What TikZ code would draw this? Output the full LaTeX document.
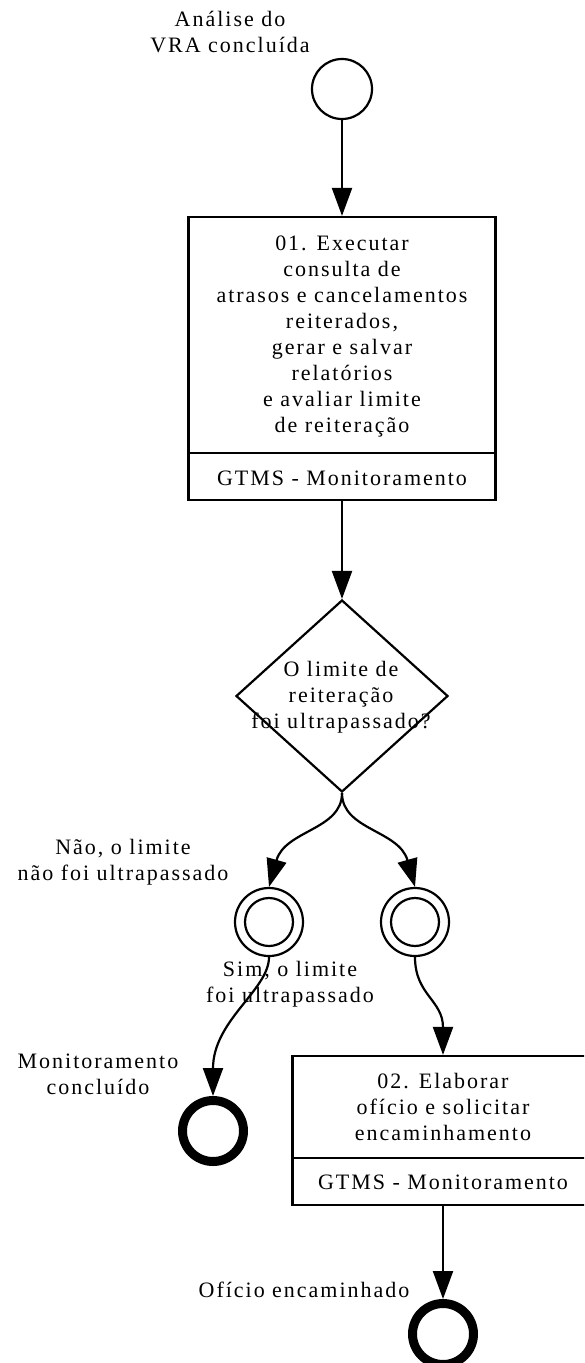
\documentclass[tikz,border=0pt]{standalone}
\usepackage{fontspec}
\setmainfont{Liberation Serif}[LetterSpace=9]
\usetikzlibrary{arrows.meta,shapes.geometric}
\begin{document}
\begin{tikzpicture}[x=1pt,y=-1pt,
  every node/.style={inner sep=0pt},
  lbl/.style={align=center, font=\fontsize{22pt}{26pt}\selectfont},
  stroke/.style={line width=2.2pt},
  arr/.style={line width=2.2pt, -{Triangle[length=28pt,width=20pt]}},
  startev/.style={circle, draw, line width=2.2pt, minimum size=60pt},
  midev/.style={circle, draw, line width=2.2pt, minimum size=68pt},
  endev/.style={circle, draw, line width=9pt, minimum size=61pt},
  taskbox/.style={rectangle, draw, line width=2.2pt},
  gateway/.style={diamond, draw, line width=2.2pt, minimum width=212pt, minimum height=192pt}]
\clip (0,0) rectangle (584,1363);
\fill[white] (0,0) rectangle (584,1363);

% shapes
\node[startev] (s0) at (342,89) {};
\node[taskbox, minimum width=307pt, minimum height=283pt] (t1) at (342,358.5) {};
\draw[stroke] ([yshift=48pt]t1.south west) -- ([yshift=48pt]t1.south east);
\node[gateway] (g1) at (342,696) {};
\node[midev] (m1) at (269,922) {};
\draw[stroke] (m1.center) circle[radius=24pt];
\node[midev] (m2) at (415,922) {};
\draw[stroke] (m2.center) circle[radius=24pt];
\node[endev] (e1) at (213,1131) {};
\node[taskbox, minimum width=301pt, minimum height=149pt] (t2) at (443,1130.5) {};
\draw[stroke] ([yshift=48pt]t2.south west) -- ([yshift=48pt]t2.south east);
\node[endev] (e2) at (443,1334) {};

% connectors
\draw[arr] (s0) -- (t1);
\draw[arr] (t1) -- (g1);
\draw[arr] (g1.south) .. controls (342,830) and (285,830) .. (m1.north);
\draw[arr] (g1.south) .. controls (342,830) and (399,830) .. (m2.north);
\draw[arr] (m1.south) .. controls (269,990) and (213,1020) .. (e1.north);
\draw[arr] (m2.south) .. controls (415,995) and (443,1000) .. (t2.north);
\draw[arr] (t2) -- (e2);

% texts
\node[lbl] (l0) at (230,32) {Análise do\\VRA concluída};
\node[lbl] (t1txt) at (342,336.5) {01. Executar\\consulta de\\atrasos e cancelamentos\\reiterados,\\gerar e salvar\\relatórios\\e avaliar limite\\de reiteração};
\node[lbl, anchor=base] (t1role) at (342,485) {GTMS - Monitoramento};
\node[lbl] (gtxt) at (341,697.5) {O limite de\\reiteração\\foi ultrapassado?};
\node[lbl] (lnao) at (123,862.5) {Não, o limite\\não foi ultrapassado};
\node[lbl] (lsim) at (290,984.5) {Sim, o limite\\foi ultrapassado};
\node[lbl] (lmon) at (98,1074) {Monitoramento\\concluído};
\node[lbl] (t2txt) at (443,1107) {02. Elaborar\\ofício e solicitar\\encaminhamento};
\node[lbl, anchor=base] (t2role) at (443,1189) {GTMS - Monitoramento};
\node[lbl, anchor=base] (lofi) at (304,1297) {Ofício encaminhado};
\end{tikzpicture}
\end{document}
